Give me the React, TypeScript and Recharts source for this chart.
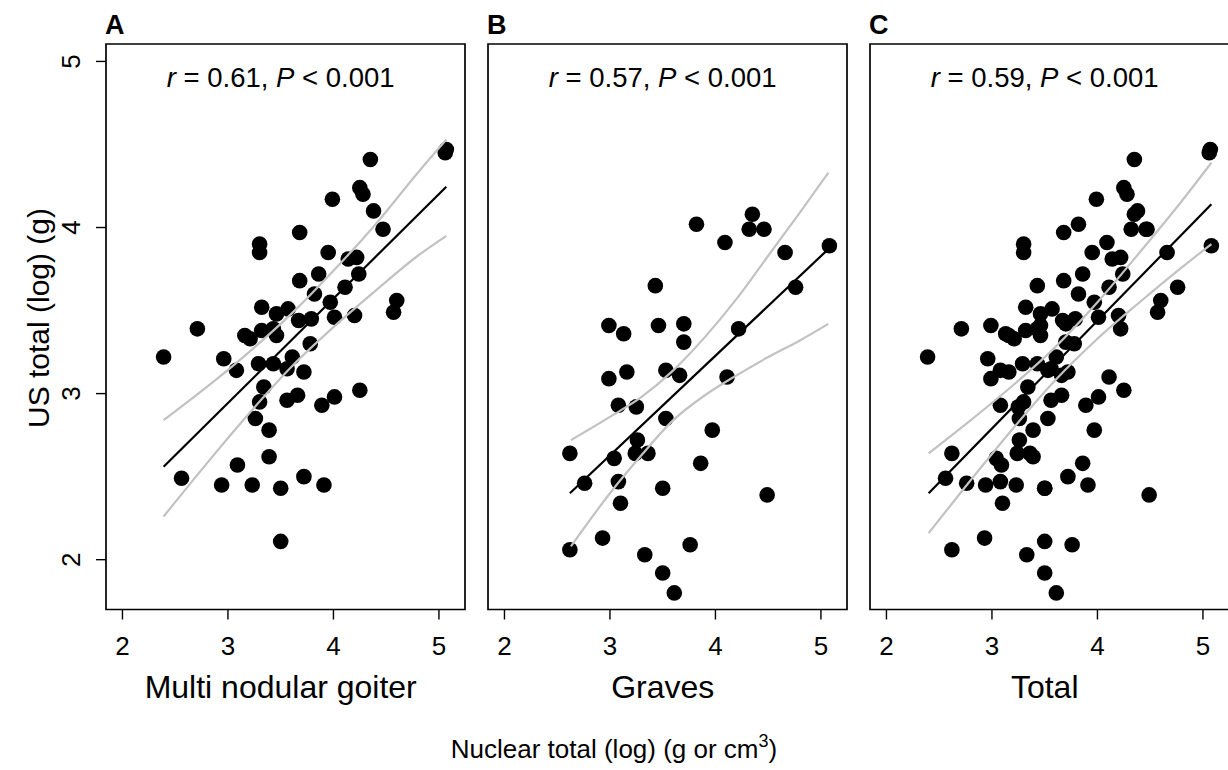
import React from 'react';
import { ScatterChart, Scatter, XAxis, YAxis, ReferenceArea } from 'recharts';

const FONT = '"Liberation Sans", Arial, Helvetica, sans-serif';

// axis setup shared by the three panels
const X_DOMAIN: [number, number] = [1.844, 5.247];
const Y_DOMAIN: [number, number] = [1.7, 5.105];
const xTicks = [2, 3, 4, 5];
const yTicks = [2, 3, 4, 5];

const panelLetters = ['A', 'B', 'C'];
const panelTitles = ['Multi nodular goiter', 'Graves', 'Total'];
const rValues = ['0.61', '0.57', '0.59'];

// A: multi nodular goiter
const mngX = [5.07, 5.06, 4.35, 4.25, 4.28, 3.99, 4.38, 4.47, 3.68, 3.3, 3.3, 3.95, 4.14, 4.22, 4.24, 3.86, 3.68, 4.11, 3.82, 3.97, 4.6, 4.57, 3.32, 3.46, 3.57, 3.67, 3.79, 4.01, 4.2, 2.71, 3.16, 3.21, 3.32, 3.43, 3.46, 3.78, 2.39, 2.96, 3.08, 3.29, 3.43, 3.61, 3.56, 3.72, 3.34, 3.3, 3.56, 3.66, 3.89, 4.01, 4.25, 3.26, 3.39, 3.39, 3.09, 2.56, 2.94, 3.23, 3.5, 3.72, 3.91, 3.5];
const mngY = [4.47, 4.45, 4.41, 4.24, 4.2, 4.17, 4.1, 3.99, 3.97, 3.9, 3.85, 3.85, 3.81, 3.82, 3.72, 3.72, 3.68, 3.64, 3.6, 3.55, 3.56, 3.49, 3.52, 3.48, 3.51, 3.44, 3.45, 3.46, 3.47, 3.39, 3.35, 3.33, 3.38, 3.39, 3.35, 3.3, 3.22, 3.21, 3.14, 3.18, 3.18, 3.22, 3.15, 3.13, 3.04, 2.95, 2.96, 2.99, 2.93, 2.98, 3.02, 2.85, 2.78, 2.62, 2.57, 2.49, 2.45, 2.45, 2.43, 2.5, 2.45, 2.11];

// B: Graves
const gravesX = [3.82, 4.35, 4.32, 4.46, 4.09, 4.66, 5.08, 3.43, 4.76, 2.99, 3.13, 3.46, 3.7, 3.7, 4.22, 2.99, 3.16, 3.53, 3.66, 4.11, 3.08, 3.25, 3.53, 3.97, 3.26, 2.62, 3.04, 3.24, 3.36, 3.86, 2.76, 3.08, 3.5, 4.49, 3.1, 2.93, 2.62, 3.76, 3.33, 3.5, 3.61];
const gravesY = [4.02, 4.08, 3.99, 3.99, 3.91, 3.85, 3.89, 3.65, 3.64, 3.41, 3.36, 3.41, 3.42, 3.31, 3.39, 3.09, 3.13, 3.14, 3.11, 3.1, 2.93, 2.92, 2.85, 2.78, 2.72, 2.64, 2.61, 2.64, 2.64, 2.58, 2.46, 2.47, 2.43, 2.39, 2.34, 2.13, 2.06, 2.09, 2.03, 1.92, 1.8];

// C: total = both groups
const totalX = [...mngX, ...gravesX];
const totalY = [...mngY, ...gravesY];

// fitted lines and confidence bands
const fitAX = [2.39, 5.07];
const fitAY = [2.56, 4.245];
const bandAX = [2.39, 2.8, 3.2, 3.6, 4.0, 4.4, 4.8, 5.07];
const bandAUp = [2.84, 3.04, 3.25, 3.48, 3.74, 4.02, 4.33, 4.53];
const bandALo = [2.26, 2.58, 2.88, 3.16, 3.4, 3.62, 3.83, 3.95];

const fitBX = [2.62, 5.07];
const fitBY = [2.4, 3.87];
const bandBX = [2.63, 3.0, 3.3, 3.6, 3.9, 4.2, 4.5, 4.8, 5.07];
const bandBUp = [2.72, 2.86, 2.98, 3.14, 3.34, 3.57, 3.83, 4.09, 4.33];
const bandBLo = [2.08, 2.4, 2.63, 2.84, 2.99, 3.11, 3.22, 3.32, 3.42];

const fitCX = [2.4, 5.08];
const fitCY = [2.4, 4.14];
const bandCX = [2.4, 2.8, 3.2, 3.6, 4.0, 4.4, 4.8, 5.08];
const bandCUp = [2.64, 2.84, 3.05, 3.28, 3.55, 3.85, 4.16, 4.39];
const bandCLo = [2.16, 2.48, 2.79, 3.08, 3.33, 3.55, 3.76, 3.9];

const zip = (xs: number[], ys: number[]) => xs.map((x, i) => ({ x, y: ys[i] }));

const panels = [
  { points: zip(mngX, mngY), fit: zip(fitAX, fitAY), up: zip(bandAX, bandAUp), lo: zip(bandAX, bandALo) },
  { points: zip(gravesX, gravesY), fit: zip(fitBX, fitBY), up: zip(bandBX, bandBUp), lo: zip(bandBX, bandBLo) },
  { points: zip(totalX, totalY), fit: zip(fitCX, fitCY), up: zip(bandCX, bandCUp), lo: zip(bandCX, bandCLo) },
];

const PLOT_LEFT = [106, 488, 870];
const PLOT_W = 359;
const Y_AXIS_W = 106;

const renderDot = (props: any) => <circle cx={props.cx} cy={props.cy} r={7.8} fill="#000" />;
const renderNone = () => <g />;

const renderYTick = (props: any) => {
  const { x, y, payload } = props;
  return (
    <text x={x} y={y} transform={`rotate(-90 ${x} ${y})`} textAnchor="middle" fontSize={26} fontFamily={FONT} fill="#000">
      {payload.value}
    </text>
  );
};

const makePanelText = (i: number) => (props: any) => {
  const vb = props.viewBox || {};
  const { x, y, width, height } = vb;
  const mid = (xTicks[0] + xTicks[xTicks.length - 1]) / 2;
  const cx = x + ((mid - X_DOMAIN[0]) / (X_DOMAIN[1] - X_DOMAIN[0])) * width;
  return (
    <g fontFamily={FONT} fill="#000">
      <text x={x - 1} y={34} fontSize={27} fontWeight="bold">{panelLetters[i]}</text>
      <text x={cx} y={y + 43} fontSize={27.5} textAnchor="middle">
        <tspan fontStyle="italic">r</tspan> = {rValues[i]}, <tspan fontStyle="italic">P</tspan> &lt; 0.001
      </text>
      <text x={cx} y={y + height + 88} fontSize={32} textAnchor="middle">{panelTitles[i]}</text>
    </g>
  );
};

function Panel({ index }: { index: number }) {
  const p = panels[index];
  const showY = index === 0;
  const leftPad = showY ? 0 : 20;
  const left = PLOT_LEFT[index] - (showY ? Y_AXIS_W : leftPad);
  const width = (showY ? Y_AXIS_W : leftPad) + PLOT_W + 10;
  return (
    <div style={{ position: 'absolute', left, top: 0 }}>
      <ScatterChart width={width} height={770} margin={{ top: 44, right: 10, bottom: 60.5, left: leftPad }}>
        <XAxis
          type="number"
          dataKey="x"
          domain={X_DOMAIN}
          ticks={xTicks}
          allowDataOverflow
          axisLine={false}
          tickLine={{ stroke: '#000', strokeWidth: 1.4 }}
          tickSize={10}
          tickMargin={17}
          tick={{ fill: '#000', fontSize: 26, fontFamily: FONT }}
          height={100}
        />
        <YAxis
          type="number"
          dataKey="y"
          domain={Y_DOMAIN}
          ticks={yTicks}
          allowDataOverflow
          hide={!showY}
          width={Y_AXIS_W}
          axisLine={false}
          tickLine={{ stroke: '#000', strokeWidth: 1.4 }}
          tickSize={10}
          tickMargin={16}
          tick={renderYTick}
        />
        <ReferenceArea
          x1={X_DOMAIN[0]}
          x2={X_DOMAIN[1]}
          y1={Y_DOMAIN[0]}
          y2={Y_DOMAIN[1]}
          fill="none"
          stroke="#000"
          strokeWidth={1.7}
          label={makePanelText(index)}
        />
        <Scatter data={p.points} shape={renderDot} isAnimationActive={false} />
        <Scatter data={p.up} line={{ stroke: '#c2c2c2', strokeWidth: 2.2 }} lineJointType="monotoneX" shape={renderNone} isAnimationActive={false} />
        <Scatter data={p.lo} line={{ stroke: '#c2c2c2', strokeWidth: 2.2 }} lineJointType="monotoneX" shape={renderNone} isAnimationActive={false} />
        <Scatter data={p.fit} line={{ stroke: '#000', strokeWidth: 2.2 }} shape={renderNone} isAnimationActive={false} />
      </ScatterChart>
    </div>
  );
}

export default function App() {
  return (
    <div style={{ position: 'absolute', left: 0, top: 0, width: 1228, height: 770, overflow: 'hidden', background: '#fff', fontFamily: FONT }}>
      {panels.map((_, i) => (
        <Panel key={i} index={i} />
      ))}
      <svg width={1228} height={770} style={{ position: 'absolute', left: 0, top: 0, pointerEvents: 'none' }}>
        <text x={49} y={318} transform="rotate(-90 49 318)" textAnchor="middle" fontSize={30} fontFamily={FONT} fill="#000">
          US total (log) (g)
        </text>
        <text x={614} y={758} textAnchor="middle" fontSize={26} fontFamily={FONT} fill="#000">
          Nuclear total (log) (g or cm<tspan dy={-11} fontSize={18}>3</tspan><tspan dy={11}>)</tspan>
        </text>
      </svg>
    </div>
  );
}
